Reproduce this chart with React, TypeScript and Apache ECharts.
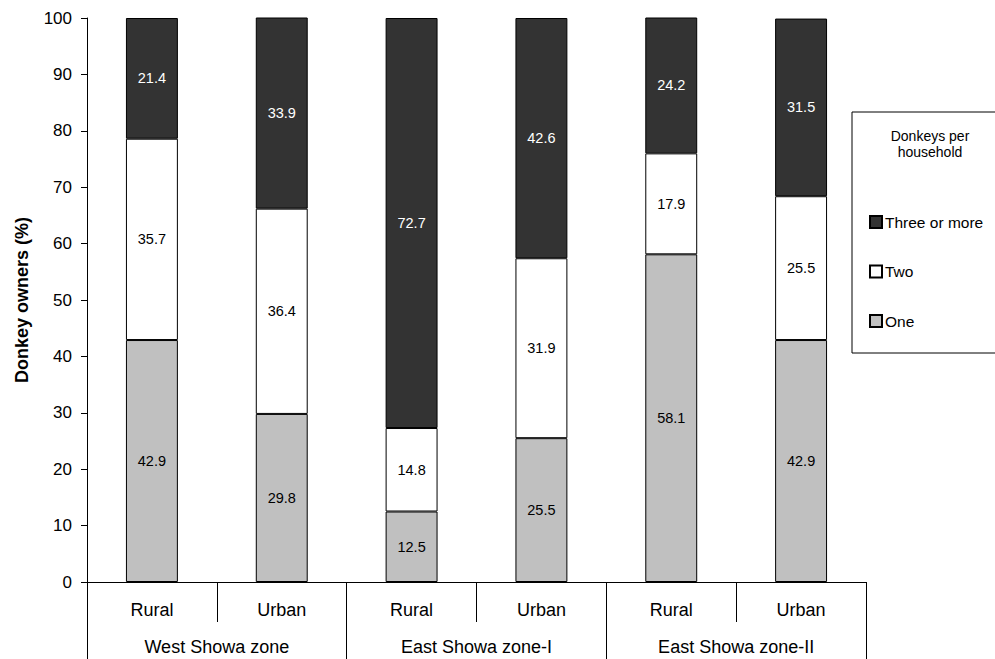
import React, { useEffect, useRef } from "react";
import * as echarts from "echarts";

const subCategories = ["Rural", "Urban", "Rural", "Urban", "Rural", "Urban"];
const zones = ["West Showa zone", "East Showa zone-I", "East Showa zone-II"];
const oneValues = [42.9, 29.8, 12.5, 25.5, 58.1, 42.9];
const twoValues = [35.7, 36.4, 14.8, 31.9, 17.9, 25.5];
const threeValues = [21.4, 33.9, 72.7, 42.6, 24.2, 31.5];
const seriesNames = ["One", "Two", "Three or more"];
const yTicks = { min: 0, max: 100, interval: 10 };

const FONT = "'Liberation Sans', Arial, sans-serif";

export default function App() {
  const ref = useRef<HTMLDivElement>(null);
  useEffect(() => {
    if (!ref.current) return;
    const chart = echarts.init(ref.current, undefined, { renderer: "svg" });
    const mk = (name: string, data: number[], color: string, labelColor: string) => ({
      name,
      type: "bar",
      stack: "total",
      barWidth: "40%",
      data,
      itemStyle: { color, borderColor: "#000", borderWidth: 1 },
      label: {
        show: true,
        position: "inside",
        color: labelColor,
        fontSize: 14.5,
        fontFamily: FONT,
        formatter: (p: any) => p.value.toFixed(1),
      },
    });
    chart.setOption({
      animation: false,
      backgroundColor: "#fff",
      textStyle: { fontFamily: FONT },
      grid: { left: 87, right: 129, top: 18, bottom: 77, containLabel: false },
      xAxis: [
        {
          type: "category",
          data: subCategories,
          position: "bottom",
          axisLine: { show: true, lineStyle: { color: "#000", width: 1 } },
          axisTick: { show: true, interval: 0, length: 40, lineStyle: { color: "#000" } },
          axisLabel: { interval: 0, margin: 19, fontSize: 18, color: "#000", fontFamily: FONT },
        },
        {
          type: "category",
          data: zones,
          position: "bottom",
          axisLine: { show: false },
          axisTick: { show: true, interval: 0, length: 80, lineStyle: { color: "#000" } },
          axisLabel: { interval: 0, margin: 56, fontSize: 18, color: "#000", fontFamily: FONT },
        },
      ],
      yAxis: {
        type: "value",
        min: yTicks.min,
        max: yTicks.max,
        interval: yTicks.interval,
        name: "Donkey owners (%)",
        nameLocation: "middle",
        nameRotate: 90,
        nameGap: 56,
        nameTextStyle: { fontSize: 18, fontWeight: "bold", color: "#000", fontFamily: FONT },
        axisLine: { show: true, lineStyle: { color: "#000", width: 1 } },
        axisTick: { show: true, length: 6, lineStyle: { color: "#000" } },
        axisLabel: { margin: 15, fontSize: 17, color: "#000", fontFamily: FONT },
        splitLine: { show: false },
      },
      legend: {
        data: ["Three or more", "Two", "One"],
        orient: "vertical",
        left: 864,
        top: 209,
        itemWidth: 12,
        itemHeight: 12,
        itemGap: 33.5,
        icon: "rect",
        textStyle: { fontSize: 15.5, color: "#000", fontFamily: FONT, padding: [0, 0, 0, -2] },
      },
      graphic: [
        {
          type: "rect",
          z: -1,
          shape: { x: 852, y: 112, width: 160, height: 241 },
          style: { fill: "#fff", stroke: "#000", lineWidth: 1 },
        },
        {
          type: "text",
          x: 930,
          y: 144,
          style: {
            text: "Donkeys per\nhousehold",
            fontSize: 14,
            lineHeight: 16,
            fill: "#000",
            fontFamily: FONT,
            align: "center",
            verticalAlign: "middle",
          },
        },
      ],
      series: [
        mk(seriesNames[0], oneValues, "#c0c0c0", "#000"),
        mk(seriesNames[1], twoValues, "#ffffff", "#000"),
        mk(seriesNames[2], threeValues, "#333333", "#fff"),
      ],
    });
    return () => chart.dispose();
  }, []);
  return (
    <div
      ref={ref}
      style={{ position: "absolute", left: 0, top: 0, width: 995, height: 659 }}
    />
  );
}
